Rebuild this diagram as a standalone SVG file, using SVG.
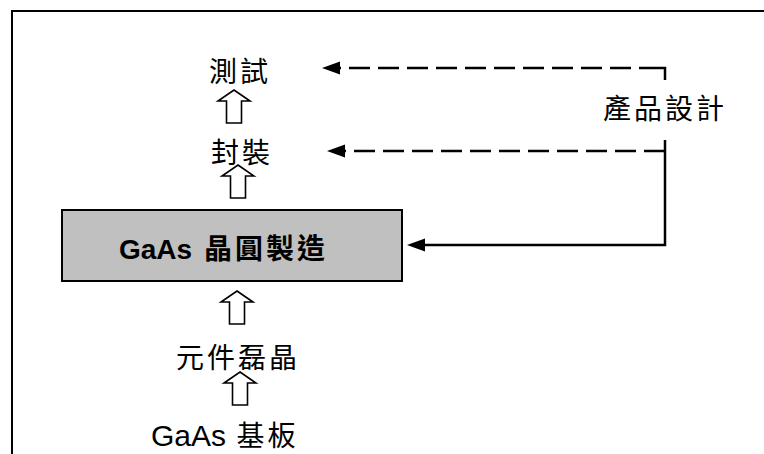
<svg xmlns="http://www.w3.org/2000/svg" width="764" height="454" viewBox="0 0 764 454">
<style>
  .cjk { font-family: "Noto Sans CJK TC", "Noto Sans CJK SC", sans-serif; font-size: 28px; fill: #000; letter-spacing: 3px; }
  .lat { font-family: "Liberation Sans", Arial, sans-serif; fill: #000; }
  .hollow { fill: #fff; stroke: #000; stroke-width: 1.6; stroke-linejoin: miter; }
  .conn { fill: none; stroke: #000; stroke-width: 2.5; }
  .dash { stroke-dasharray: 21 8; }
</style>
<defs>
  <marker id="head" markerUnits="userSpaceOnUse" markerWidth="20" markerHeight="16" viewBox="0 -8 20 16" refX="2" refY="0" orient="auto-start-reverse">
    <path d="M0,-6.5 L18,0 L0,6.5 Z" fill="#000"/>
  </marker>
  <path id="up" d="M0,0 L16,11 L7.5,11 L7.5,33 L-7.5,33 L-7.5,11 L-16,11 Z"/>
</defs>
<rect width="764" height="454" fill="#fff"/>
<g id="frame">
  <path d="M12,454 V11 H764" fill="none" stroke="#000" stroke-width="2"/>
</g>
<g id="connectors">
  <use href="#up" class="hollow" x="234" y="90"/>
  <use href="#up" class="hollow" x="238" y="165"/>
  <use href="#up" class="hollow" x="237" y="291"/>
  <use href="#up" class="hollow" x="240" y="372"/>
  <path class="conn" d="M665,80 V68 H652"/>
  <path class="conn dash" d="M338,68 H652" stroke-dashoffset="18" marker-start="url(#head)"/>
  <path class="conn dash" d="M343,151 H665" stroke-dashoffset="18" marker-start="url(#head)"/>
  <path class="conn" d="M665,140 V245 H423" marker-end="url(#head)"/>
</g>
<g id="node-test">
  <text class="cjk" x="240" y="82" text-anchor="middle" font-size="29">測試</text>
</g>
<g id="node-package">
  <text class="cjk" x="242" y="163" text-anchor="middle" font-size="29">封裝</text>
</g>
<g id="node-design">
  <text class="cjk" x="665" y="119" text-anchor="middle" font-size="28">產品設計</text>
</g>
<g id="node-wafer">
  <rect x="62" y="210" width="340" height="71" fill="#c0c0c0" stroke="#000" stroke-width="2"/>
  <text x="119" y="259" font-weight="bold"><tspan class="lat" font-size="28">GaAs </tspan><tspan class="cjk" font-size="29" letter-spacing="4" dx="4">晶圓製造</tspan></text>
</g>
<g id="node-epi">
  <text class="cjk" x="238" y="368" text-anchor="middle" font-size="27">元件磊晶</text>
</g>
<g id="node-substrate">
  <text x="151" y="446"><tspan class="lat" font-size="30">GaAs </tspan><tspan class="cjk" font-size="28" letter-spacing="2" dx="2">基板</tspan></text>
</g>
</svg>
